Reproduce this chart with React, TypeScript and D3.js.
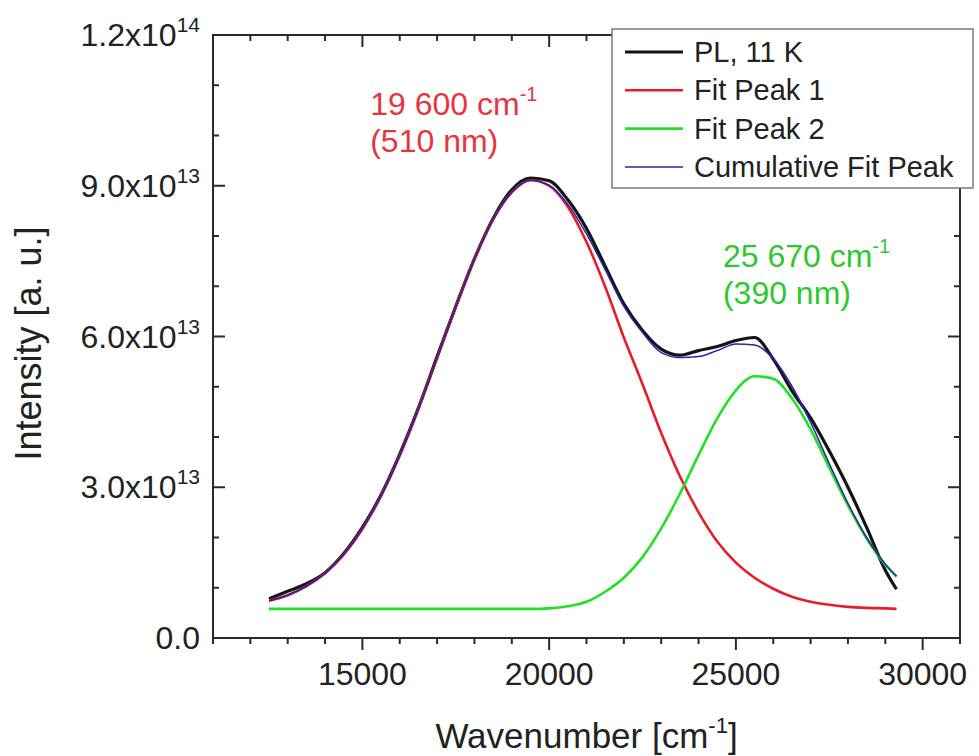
import { useEffect, useRef } from 'react';
import * as d3 from 'd3';

// wavenumber grid [cm-1], intensities in units of 1e13 a.u.
const WAVENUMBER = [
  12500, 13000, 13500, 14000, 14500, 15000, 15500, 16000, 16500, 17000, 17500, 18000,
  18500, 19000, 19500, 20000, 20500, 21000, 21500, 22000, 22500, 23000, 23500, 24000,
  24500, 25000, 25500, 26000, 26500, 27000, 27500, 28000, 28500, 29000, 29300,
];

const PL_11K = [
  0.78, 0.93, 1.08, 1.3, 1.68, 2.2, 2.85, 3.66, 4.58, 5.6, 6.6, 7.55,
  8.35, 8.92, 9.15, 9.1, 8.72, 8.15, 7.4, 6.65, 6.12, 5.75, 5.63, 5.72,
  5.8, 5.92, 5.98, 5.55, 4.92, 4.38, 3.72, 3.0, 2.2, 1.35, 0.97,
];

const FIT_PEAK_1 = [
  0.74, 0.85, 1.03, 1.29, 1.66, 2.17, 2.83, 3.63, 4.56, 5.57, 6.59, 7.54,
  8.33, 8.87, 9.11, 9.0, 8.58, 7.88, 6.99, 5.98, 5.05, 4.08, 3.22, 2.5,
  1.92, 1.5, 1.2, 0.98, 0.82, 0.72, 0.66, 0.62, 0.6, 0.59, 0.58,
];

const FIT_PEAK_2 = [
  0.58, 0.58, 0.58, 0.58, 0.58, 0.58, 0.58, 0.58, 0.58, 0.58, 0.58, 0.58,
  0.58, 0.58, 0.58, 0.59, 0.63, 0.72, 0.92, 1.2, 1.61, 2.18, 2.87, 3.64,
  4.37, 4.93, 5.21, 5.16, 4.77, 4.15, 3.39, 2.64, 1.98, 1.46, 1.22,
];

const CUMULATIVE = [
  0.74, 0.85, 1.03, 1.29, 1.66, 2.17, 2.83, 3.63, 4.56, 5.57, 6.59, 7.54,
  8.33, 8.87, 9.11, 9.01, 8.63, 8.04, 7.33, 6.6, 6.08, 5.68, 5.58, 5.6,
  5.72, 5.85, 5.83, 5.56, 5.01, 4.29, 3.47, 2.68, 2.0, 1.47, 1.23,
];

const UNIT = 1e13;

const SERIES = [
  { name: 'PL, 11 K', values: PL_11K, color: '#141414', width: 3.2 },
  { name: 'Fit Peak 1', values: FIT_PEAK_1, color: '#e81c28', width: 2.6 },
  { name: 'Fit Peak 2', values: FIT_PEAK_2, color: '#22e022', width: 2.6 },
  { name: 'Cumulative Fit Peak', values: CUMULATIVE, color: '#2626a8', width: 1.5 },
];

const X_TICKS = [15000, 20000, 25000, 30000];
const Y_TICKS = [0, 3e13, 6e13, 9e13, 1.2e14];

const ANNOTATIONS = [
  { value: '19 600', nm: '(510 nm)', x: 19600, color: '#e8343f' },
  { value: '25 670', nm: '(390 nm)', x: 25670, color: '#2ec82e' },
];

const FONT = "'Liberation Sans', Arial, Helvetica, sans-serif";

export default function App() {
  const svgRef = useRef(null);

  useEffect(() => {
    document.body.style.margin = '0';
    const svg = d3.select(svgRef.current);
    svg.selectAll('*').remove();

    const left = 213;
    const right = 960;
    const top = 35;
    const bottom = 638;

    const x = d3.scaleLinear().domain([11000, 31000]).range([left, right]);
    const y = d3.scaleLinear().domain([0, 1.2e14]).range([bottom, top]);

    svg.append('rect').attr('width', 979).attr('height', 756).attr('fill', '#fff');

    // curves
    const line = d3
      .line()
      .x((d) => x(d[0]))
      .y((d) => y(d[1] * UNIT))
      .curve(d3.curveMonotoneX);

    SERIES.forEach((s) => {
      svg
        .append('path')
        .datum(WAVENUMBER.map((w, i) => [w, s.values[i]]))
        .attr('fill', 'none')
        .attr('stroke', s.color)
        .attr('stroke-width', s.width)
        .attr('stroke-linejoin', 'round')
        .attr('d', line);
    });

    // frame + ticks
    const axisColor = '#2a2a2a';
    const ticks = svg.append('g').attr('stroke', axisColor).attr('stroke-width', 2);

    d3.range(11000, 31001, 1000).forEach((v) => {
      const major = v % 5000 === 0;
      const len = major ? 12 : 6;
      // bottom: outward
      ticks.append('line').attr('x1', x(v)).attr('x2', x(v)).attr('y1', bottom).attr('y2', bottom + len);
      // top: inward
      ticks.append('line').attr('x1', x(v)).attr('x2', x(v)).attr('y1', top).attr('y2', top + len);
    });

    d3.range(0, 12.01, 1).forEach((k) => {
      const v = k * UNIT;
      const major = k % 3 === 0;
      const len = major ? 12 : 6;
      ticks.append('line').attr('x1', left).attr('x2', left + len).attr('y1', y(v)).attr('y2', y(v));
      ticks.append('line').attr('x1', right).attr('x2', right - len).attr('y1', y(v)).attr('y2', y(v));
    });

    svg
      .append('rect')
      .attr('x', left)
      .attr('y', top)
      .attr('width', right - left)
      .attr('height', bottom - top)
      .attr('fill', 'none')
      .attr('stroke', axisColor)
      .attr('stroke-width', 2);

    // x tick labels
    X_TICKS.forEach((v) => {
      svg
        .append('text')
        .attr('x', x(v))
        .attr('y', bottom + 47)
        .attr('text-anchor', 'middle')
        .attr('font-family', FONT)
        .attr('font-size', 32)
        .attr('fill', '#222')
        .text(v);
    });

    // y tick labels
    Y_TICKS.forEach((v) => {
      const t = svg
        .append('text')
        .attr('x', 200)
        .attr('y', y(v) + 11)
        .attr('text-anchor', 'end')
        .attr('font-family', FONT)
        .attr('font-size', 32)
        .attr('fill', '#222');
      if (v === 0) {
        t.text('0.0');
        return;
      }
      const exp = Math.floor(Math.log10(v));
      const mant = (v / Math.pow(10, exp)).toFixed(1);
      t.append('tspan').text(`${mant}x10`);
      t.append('tspan').attr('dy', -14).attr('font-size', 21).text(exp);
    });

    // axis titles
    const xt = svg
      .append('text')
      .attr('x', (left + right) / 2)
      .attr('y', 748)
      .attr('text-anchor', 'middle')
      .attr('font-family', FONT)
      .attr('font-size', 35)
      .attr('fill', '#222');
    xt.append('tspan').text('Wavenumber [cm');
    xt.append('tspan').attr('dy', -15).attr('font-size', 22).text('-1');
    xt.append('tspan').attr('dy', 15).text(']');

    svg
      .append('text')
      .attr('transform', `translate(41, ${(top + bottom) / 2 + 7}) rotate(-90)`)
      .attr('text-anchor', 'middle')
      .attr('font-family', FONT)
      .attr('font-size', 36)
      .attr('fill', '#222')
      .text('Intensity [a. u.]');

    // peak annotations
    ANNOTATIONS.forEach((a, i) => {
      const ax = i === 0 ? x(a.x) - 164 : x(a.x) - 38;
      const ay = i === 0 ? 115 : 267;
      const t = svg
        .append('text')
        .attr('x', ax)
        .attr('y', ay)
        .attr('font-family', FONT)
        .attr('font-size', 32)
        .attr('fill', a.color);
      t.append('tspan').text(`${a.value} cm`);
      t.append('tspan').attr('dy', -14).attr('font-size', 20).text('-1');
      svg
        .append('text')
        .attr('x', ax)
        .attr('y', ay + 37)
        .attr('font-family', FONT)
        .attr('font-size', 32)
        .attr('fill', a.color)
        .text(a.nm);
    });

    // legend
    const legend = svg.append('g').attr('transform', 'translate(612, 29)');
    legend
      .append('rect')
      .attr('width', 361)
      .attr('height', 159)
      .attr('fill', '#fff')
      .attr('stroke', '#7a7a7a')
      .attr('stroke-width', 1.5);

    SERIES.forEach((s, i) => {
      const cy = 23 + i * 38.3;
      legend
        .append('line')
        .attr('x1', 13)
        .attr('x2', 71)
        .attr('y1', cy)
        .attr('y2', cy)
        .attr('stroke', s.color)
        .attr('stroke-width', s.width);
      legend
        .append('text')
        .attr('x', 82)
        .attr('y', cy + 10)
        .attr('font-family', FONT)
        .attr('font-size', 29)
        .attr('fill', '#222')
        .text(s.name);
    });
  }, []);

  return <svg ref={svgRef} width={979} height={756} style={{ display: 'block' }} />;
}
